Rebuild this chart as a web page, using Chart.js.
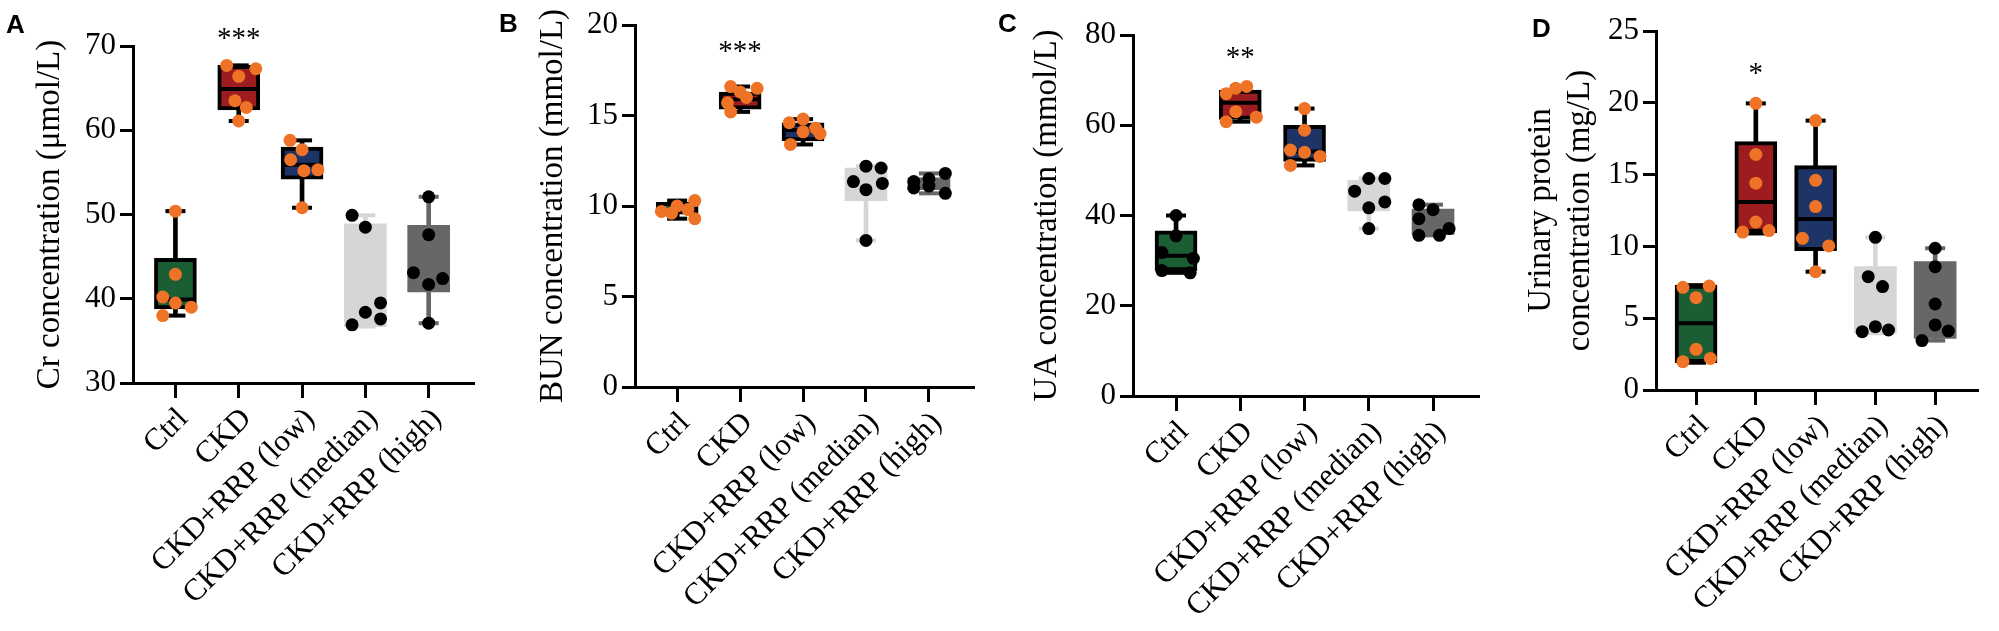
<!DOCTYPE html>
<html><head><meta charset="utf-8">
<script src="https://cdn.jsdelivr.net/npm/chart.js@4.4.1/dist/chart.umd.min.js"></script>
<style>
html,body{margin:0;padding:0;background:#fff;width:1999px;height:631px;overflow:hidden}
.p{position:absolute;top:0}
canvas{display:block}
</style></head><body>
<div class="p" style="left:0px"><canvas id="cA" width="495" height="631"></canvas></div>
<div class="p" style="left:495px"><canvas id="cB" width="500" height="631"></canvas></div>
<div class="p" style="left:995px"><canvas id="cC" width="505" height="631"></canvas></div>
<div class="p" style="left:1500px"><canvas id="cD" width="499" height="631"></canvas></div>
<script>
// ---------------- DATA ----------------
const categories = ['Ctrl', 'CKD', 'CKD+RRP (low)', 'CKD+RRP (median)', 'CKD+RRP (high)'];

// Panel A: Cr (µmol/L)
const crTicks = [30, 40, 50, 60, 70];
const crDots = [
  [50.4, 42.9, 40.2, 39.5, 39.0, 38.0],
  [67.7, 67.3, 66.4, 63.5, 62.7, 61.1],
  [58.8, 57.7, 56.5, 55.2, 55.3, 50.8],
  [49.9, 48.5, 39.5, 38.4, 37.6, 36.9],
  [52.1, 47.6, 43.1, 42.4, 41.7, 37.1]
];
// [min, q1, median, q3, max]
const crBox = [
  [38.0, 38.8, 39.9, 44.8, 50.4],
  [61.1, 62.4, 64.9, 67.7, 67.7],
  [50.8, 54.2, 55.9, 58.0, 58.8],
  [36.7, 36.7, 39.0, 48.9, 49.9],
  [37.1, 40.8, 42.7, 48.7, 52.1]
];

// Panel B: BUN (mmol/L)
const bunTicks = [0, 5, 10, 15, 20];
const bunDots = [
  [10.3, 10.0, 9.8, 9.7, 9.6, 9.3],
  [16.6, 16.5, 16.3, 16.0, 15.7, 15.2],
  [14.8, 14.6, 14.3, 14.1, 14.0, 13.4],
  [12.2, 12.1, 11.35, 11.25, 10.9, 8.1],
  [11.8, 11.5, 11.35, 11.1, 11.0, 10.7]
];
const bunBox = [
  [9.3, 9.55, 9.75, 10.2, 10.3],
  [15.2, 15.35, 15.9, 16.3, 16.6],
  [13.4, 13.6, 14.2, 14.6, 14.8],
  [8.1, 10.3, 11.3, 12.1, 12.2],
  [10.7, 10.9, 11.2, 11.55, 11.8]
];

// Panel C: UA (mmol/L)
const uaTicks = [0, 20, 40, 60, 80];
const uaDots = [
  [40.0, 35.5, 31.8, 30.5, 27.8, 27.3],
  [68.6, 68.2, 67.0, 63.0, 61.8, 60.8],
  [63.7, 58.9, 54.5, 54.0, 53.1, 51.1],
  [48.2, 48.2, 45.4, 43.0, 41.7, 37.1],
  [42.4, 41.3, 39.3, 37.1, 35.6, 35.6]
];
const uaBox = [
  [27.3, 27.7, 31.1, 36.6, 40.0],
  [60.8, 61.3, 65.0, 67.8, 68.6],
  [51.1, 52.0, 54.2, 60.0, 63.7],
  [37.1, 41.0, 44.2, 47.8, 48.2],
  [35.6, 35.8, 38.2, 41.4, 42.4]
];

// Panel D: Urinary protein (mg/L)
const upTicks = [0, 5, 10, 15, 20, 25];
const upDots = [
  [7.15, 7.24, 6.43, 2.83, 1.97, 2.2],
  [19.96, 16.4, 14.4, 11.7, 11.0, 11.1],
  [18.76, 14.6, 12.77, 10.56, 10.03, 8.24],
  [10.63, 7.89, 7.2, 4.06, 4.41, 4.18],
  [9.87, 8.59, 5.99, 4.53, 4.11, 3.44]
];
const upBox = [
  [1.9, 1.9, 4.64, 7.3, 7.3],
  [10.9, 10.95, 13.1, 17.3, 19.96],
  [8.24, 9.7, 11.9, 15.62, 18.76],
  [3.95, 3.95, 5.8, 8.59, 10.63],
  [3.44, 3.6, 5.3, 8.94, 9.87]
];

// significance marks (label, value level above CKD)
const sigLabels = ['***', '***', '**', '*'];
const sigLevels = [71.5, 18.8, 76.2, 22.4];

// ---------------- LAYOUT / STYLE ----------------
const jitterA = [[0,0,-0.2,0,0.25,-0.2],[-0.19,0.27,0,-0.06,0.12,0],[-0.19,0,-0.18,0.03,0.25,0],[-0.21,0,0.24,0,0.24,-0.21],[0,0,-0.24,0.22,0,0]];
const jitterB = [[0.28,0,0.17,-0.25,-0.09,0.28],[-0.15,0.27,0,0.1,-0.2,-0.15],[0,-0.22,0.2,0,0.27,-0.2],[0,0.24,-0.2,0.26,0,0],[0.26,0,-0.24,0,-0.24,0.26]];
const jitterC = [[0,0,-0.22,0.27,-0.22,0.22],[0.1,-0.07,-0.22,-0.07,0.25,-0.22],[0,0,-0.22,0,0.24,-0.22],[0,0.25,-0.22,0.25,0,0],[-0.22,0,-0.22,0.25,-0.22,0.1]];
const jitterD = [[-0.22,0.22,0,0,-0.22,0.24],[0,0,0,0,-0.22,0.22],[0,0,0,-0.22,0.22,0],[0,-0.12,0.12,-0.22,0,0.22],[0,0,0,0,0.22,-0.22]];

const ORANGE = '#ee7326';
const fillColor = ['#1b5e34', '#9c1c20', '#1f3466', '#d6d6d6', '#676767'];
const lineColor = ['#000000', '#000000', '#000000', '#d6d6d6', '#676767'];
const boxBorderW = [4, 4, 4, 0, 0];
const SERIF = '"Liberation Serif", "Times New Roman", serif';
const SANS = '"Liberation Sans", Arial, sans-serif';

const panels = [
  { id: 'cA', left: 0, width: 495, area: {l: 133, r: 477, t: 46, b: 383},
    ticks: crTicks, dots: crDots, box: crBox, jitter: jitterA,
    dotColor: [ORANGE, ORANGE, ORANGE, '#000', '#000'],
    title: 'Cr concentration (\u03bcmol/L)', titleCenter: 50,
    letter: 'A', letterPos: [6, 33], sig: 0 },
  { id: 'cB', left: 495, width: 500, area: {l: 635, r: 975, t: 25, b: 387},
    ticks: bunTicks, dots: bunDots, box: bunBox, jitter: jitterB,
    dotColor: [ORANGE, ORANGE, ORANGE, '#000', '#000'],
    title: 'BUN concentration (mmol/L)', titleCenter: 553,
    letter: 'B', letterPos: [4, 32], sig: 1 },
  { id: 'cC', left: 995, width: 505, area: {l: 1133, r: 1492, t: 35, b: 396},
    ticks: uaTicks, dots: uaDots, box: uaBox, jitter: jitterC,
    dotColor: ['#000', ORANGE, ORANGE, '#000', '#000'],
    title: 'UA concentration (mmol/L)', titleCenter: 1047,
    letter: 'C', letterPos: [3, 32], sig: 2 },
  { id: 'cD', left: 1500, width: 499, area: {l: 1656, r: 1997, t: 31, b: 390},
    ticks: upTicks, dots: upDots, box: upBox, jitter: jitterD,
    dotColor: [ORANGE, ORANGE, ORANGE, '#000', '#000'],
    title: ['Urinary protein', 'concentration (mg/L)'], titleCenter: 1541,
    letter: 'D', letterPos: [32, 37], sig: 3 }
];

const TITLE_SIZE = 33, TITLE_LH = 1.18;
const TICK_SIZE = 31;

function makeAnnot(p) {
  return {
    id: 'annot' + p.id,
    afterDraw(chart) {
      const c = chart.ctx;
      c.save();
      c.fillStyle = '#000';
      c.textAlign = 'left';
      c.textBaseline = 'alphabetic';
      c.font = 'bold 26px ' + SANS;
      c.fillText(p.letter, p.letterPos[0], p.letterPos[1]);
      const xs = chart.scales.x, ys = chart.scales.y;
      c.font = '29px ' + SERIF;
      const txt = sigLabels[p.sig];
      const m = c.measureText(txt);
      const x = xs.getPixelForValue(1);
      const yc = ys.getPixelForValue(sigLevels[p.sig]);
      c.textAlign = 'center';
      c.fillText(txt, x, yc + (m.actualBoundingBoxAscent - m.actualBoundingBoxDescent) / 2);
      c.restore();
    }
  };
}

function makePanel(p) {
  const canvas = document.getElementById(p.id);
  const yW = p.area.l - p.left;
  const xH = 631 - p.area.b;
  const padRight = p.width - (p.area.r - p.left);
  const whiskers = p.box.map((b, i) => ({x: i, y: [b[0], b[4]]}));
  const boxes = p.box.map((b, i) => ({x: i, y: [b[1], b[3]]}));
  const caps = [], capColors = [];
  p.box.forEach((b, i) => { caps.push({x: i, y: b[0]}, {x: i, y: b[4]}); capColors.push(lineColor[i], lineColor[i]); });
  const medians = p.box.map((b, i) => ({x: i, y: b[2]}));
  const medColors = lineColor.map((c, i) => i < 3 ? '#000' : fillColor[i]);
  const dots = [], dotColors = [];
  p.dots.forEach((arr, i) => arr.forEach((v, j) => { dots.push({x: i + p.jitter[i][j], y: v}); dotColors.push(p.dotColor[i]); }));
  const titlePadTop = (p.titleCenter - p.left) - TITLE_SIZE * TITLE_LH / 2;

  new Chart(canvas, {
    type: 'bar',
    data: { datasets: [
      { type: 'bar', data: whiskers, backgroundColor: lineColor, borderWidth: 0, barThickness: 4, grouped: false, order: 5 },
      { type: 'scatter', data: caps, pointStyle: 'line', pointRadius: 10, pointBorderWidth: 4, pointBorderColor: capColors, order: 4 },
      { type: 'bar', data: boxes, backgroundColor: fillColor, borderColor: lineColor, borderWidth: boxBorderW, borderSkipped: false, barThickness: 42, grouped: false, order: 3 },
      { type: 'scatter', data: medians, pointStyle: 'line', pointRadius: 18, pointBorderWidth: 4, pointBorderColor: medColors, order: 2 },
      { type: 'scatter', data: dots, pointRadius: 6.5, pointBackgroundColor: dotColors, pointBorderColor: dotColors, pointBorderWidth: 0, order: 1 }
    ]},
    options: {
      responsive: false,
      animation: false,
      events: [],
      devicePixelRatio: 1,
      layout: { padding: { left: 0, top: p.area.t, right: padRight, bottom: 0 } },
      plugins: { legend: { display: false }, tooltip: { enabled: false } },
      scales: {
        x: {
          type: 'linear', min: -0.67, max: 4.7, offset: false,
          afterBuildTicks: s => { s.ticks = categories.map((c, i) => ({value: i})); },
          afterFit: s => { s.height = xH; },
          grid: { display: true, drawOnChartArea: false, drawTicks: true, tickLength: 15, tickWidth: 3, lineWidth: 3, color: '#000', tickColor: '#000', offset: false },
          border: { display: true, width: 3, color: '#000' },
          ticks: { autoSkip: false, minRotation: 45, maxRotation: 45, padding: 3, labelOffset: 8, color: '#000',
                   font: { family: SERIF, size: TICK_SIZE }, callback: v => categories[v] }
        },
        y: {
          type: 'linear', min: p.ticks[0], max: p.ticks[p.ticks.length - 1], beginAtZero: false,
          afterBuildTicks: s => { s.ticks = p.ticks.map(v => ({value: v})); },
          afterFit: s => { s.width = yW; },
          grid: { display: true, drawOnChartArea: false, drawTicks: true, tickLength: 13, tickWidth: 3, lineWidth: 3, color: '#000', tickColor: '#000' },
          border: { display: true, width: 3, color: '#000' },
          ticks: { padding: 4, color: '#000', font: { family: SERIF, size: TICK_SIZE } },
          title: { display: true, text: p.title, color: '#000', font: { family: SERIF, size: TITLE_SIZE, lineHeight: TITLE_LH },
                   padding: { top: titlePadTop, bottom: 0 } }
        }
      }
    },
    plugins: [makeAnnot(p)]
  });
}

panels.forEach(makePanel);
</script>
</body></html>
